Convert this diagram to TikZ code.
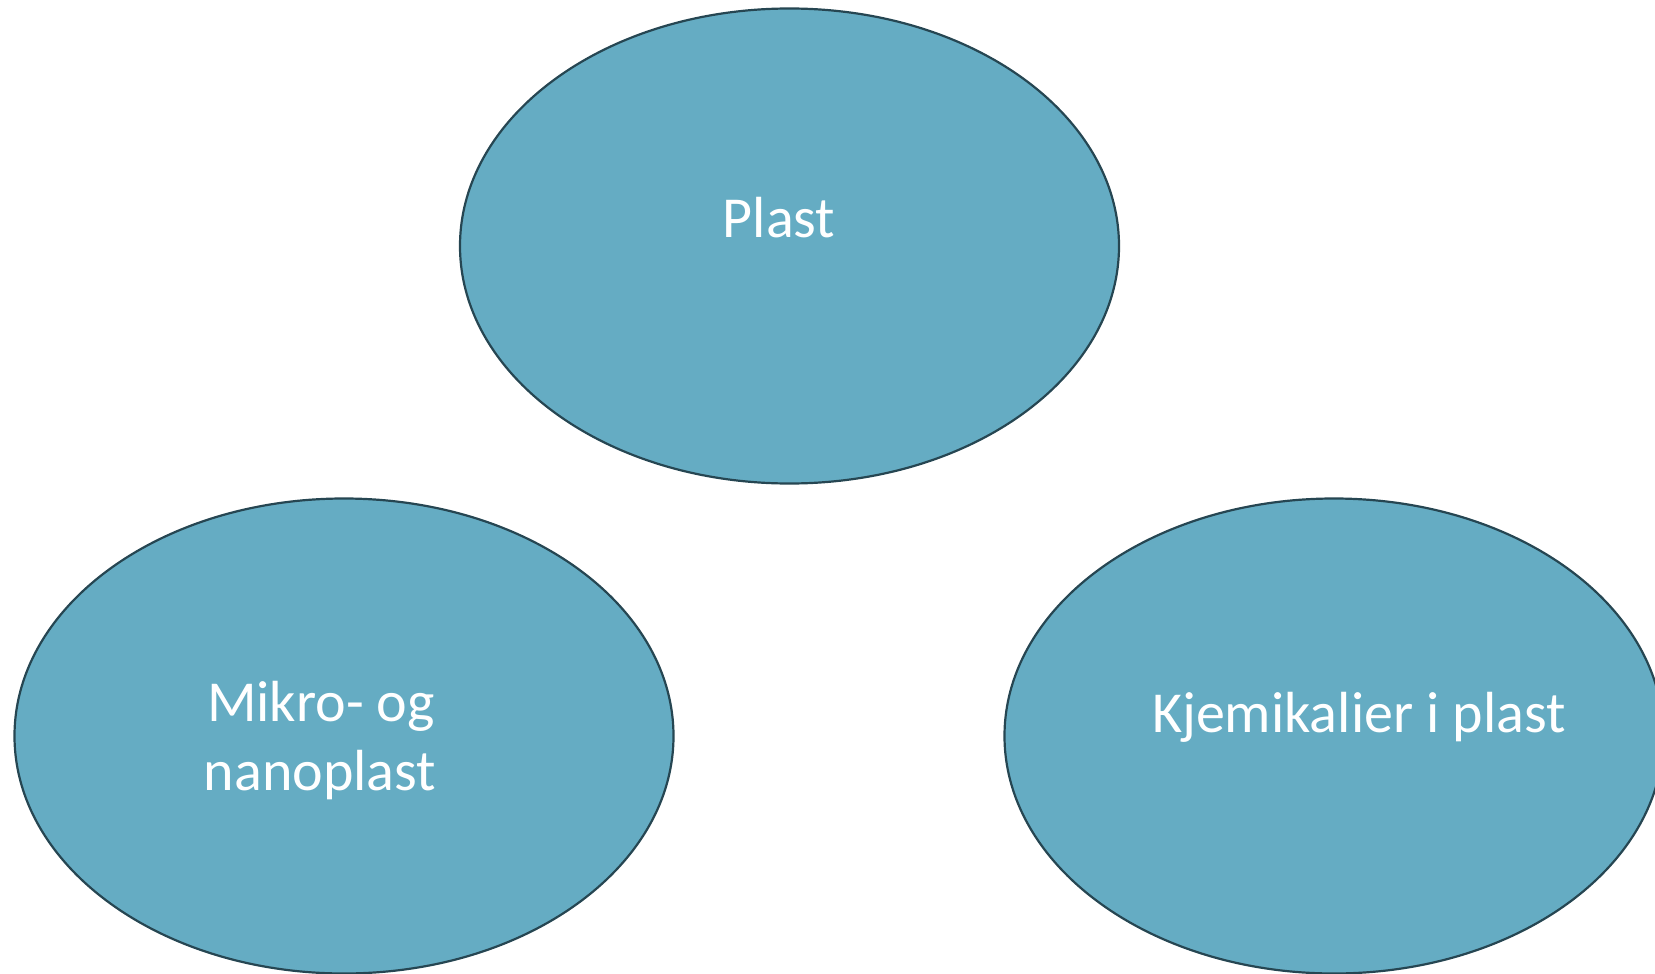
\documentclass[tikz,border=0pt]{standalone}
\usepackage{fontspec}
\setmainfont{Carlito}
\usetikzlibrary{shapes.geometric}
\definecolor{blobfill}{RGB}{101,172,195}
\definecolor{blobline}{RGB}{38,70,82}
\tikzset{
  blob/.style={ellipse, draw=blobline, fill=blobfill, line width=2.2pt,
    inner sep=0pt, minimum width=659pt, minimum height=475pt},
  lbl/.style={text=white, anchor=base, inner sep=0pt,
    font=\fontsize{58}{69}\selectfont}
}
\begin{document}
\begin{tikzpicture}[x=1pt,y=1pt]
\useasboundingbox (0,0) rectangle (1655,-974);
\clip (0,0) rectangle (1655,-974);
\node[blob] (plast) at (789.5,-246) {};
\node[blob] (mikro) at (344,-736) {};
\node[blob] (kjem) at (1334,-736) {};
\node[lbl] (tplast) at (779,-237) {Plast};
\node[lbl] (tmikro1) at (321,-721) {Mikro- og};
\node[lbl] (tmikro2) at (320,-790) {nanoplast};
\node[lbl] (tkjem) at (1359,-732) {Kjemikalier i plast};
\end{tikzpicture}
\end{document}
